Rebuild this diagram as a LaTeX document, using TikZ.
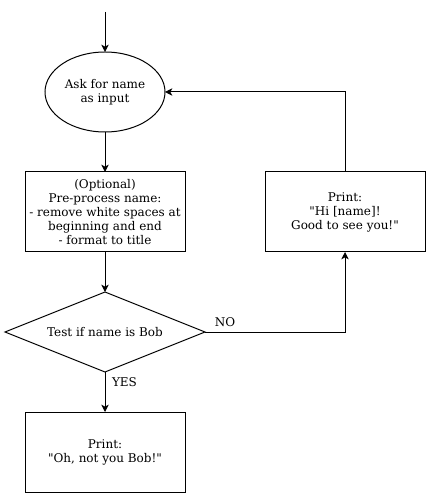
\documentclass[tikz,border=0pt]{standalone}
\usepackage{fontspec}
\setmainfont{DejaVu Serif}
\newfontfamily\dvs{DejaVu Serif}[Mapping=,Ligatures=ResetAll]
\usetikzlibrary{shapes.geometric,arrows.meta}
\tikzset{
  base/.style={draw=black, line width=0.75pt, outer sep=0pt, inner sep=1pt, align=center, font=\dvs\fontsize{9}{10.5}\selectfont},
  startnode/.style={base, ellipse, minimum width=90pt, minimum height=60pt},
  procbox/.style={base, rectangle, minimum width=120pt, minimum height=60pt},
  decision/.style={base, diamond, aspect=2.5, minimum width=150pt, minimum height=60pt, inner sep=0pt},
  conn/.style={line width=0.75pt, -{Stealth[length=5.5pt,width=5.5pt,inset=1.5pt]}},
  lbl/.style={font=\dvs\fontsize{9}{10.5}\selectfont, inner sep=0pt}
}
\begin{document}
\begin{tikzpicture}[x=0.75pt,y=-0.75pt]
\useasboundingbox (0,0) rectangle (431,498);
\coordinate (top) at (105,12);
\node[startnode] (ask) at (105,92) {Ask for name\\as input};
\node[procbox] (pre) at (105,212) {(Optional)\\Pre-process name:\\- remove white spaces at\\beginning and end\\- format to title};
\node[decision] (test) at (105,332) {Test if name is Bob};
\node[procbox] (bob) at (105,452) {Print:\\\symbol{34}Oh, not you Bob!\symbol{34}};
\node[procbox] (hi) at (345,212) {Print:\\\symbol{34}Hi [name]!\\Good to see you!\symbol{34}};
\coordinate (corner) at (345,332);
\coordinate (loop) at (345,92);
\draw[conn] (top) -- (ask.north);
\draw[conn] (ask.south) -- (pre.north);
\draw[conn] (pre.south) -- (test.north);
\draw[conn] (test.south) -- (bob.north);
\draw[conn] (test.east) -- (corner) -- (hi.south);
\draw[conn] (hi.north) -- (loop) -- (ask.east);
\node[lbl] (no) at (225,322) {NO};
\node[lbl] (yes) at (124.5,382) {YES};
\end{tikzpicture}
\end{document}
